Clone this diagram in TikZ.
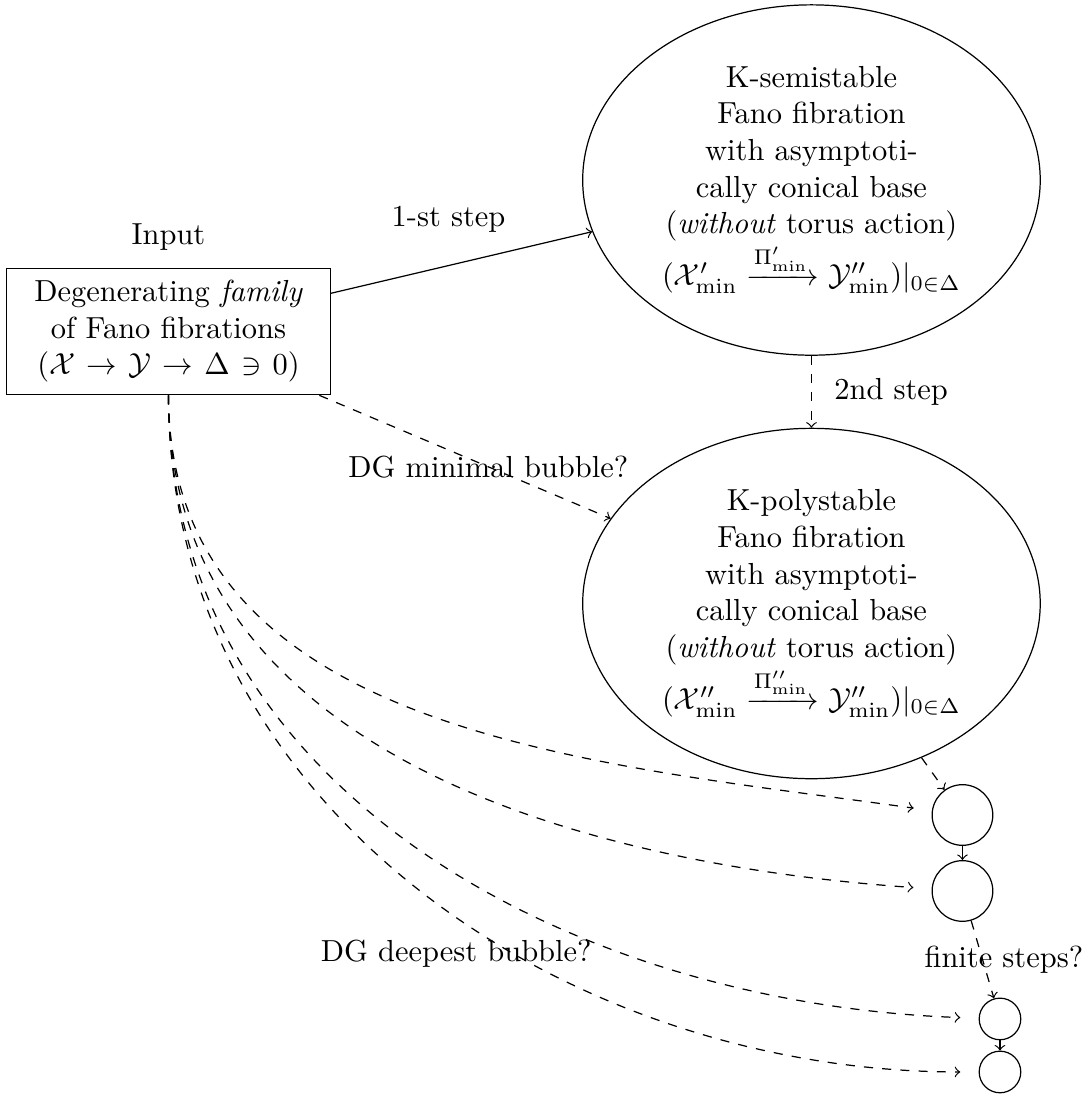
\documentclass[tikz,border=0pt]{standalone}
\usepackage{tikz}
\usepackage{graphicx, xcolor}
\usepackage{amsfonts, amsmath}
\usetikzlibrary{shapes.geometric}

\tikzset{
    famrect/.style={draw, rectangle, text width=3.5cm, minimum height=1.46cm, align=center},
    fibell/.style={draw, ellipse, text width=3.5cm, align=center},
    bubcirc/.style={draw, circle, minimum size=#1}
}

\begin{document}
\begin{tikzpicture}
            \useasboundingbox (0,0) rectangle (12.581,-12.662);

            %input family
            \node[famrect, label={[label distance=2pt]above:Input}] (fam) at (1.945,-3.826)
                {Degenerating \emph{family}\\ of Fano fibrations\\ $(\mathcal{X}\to\mathcal{Y}\to\Delta\ni 0)$};

            %fano fibrations over the cone
            \node[fibell] (semi) at (9.366,-2.078)
                {K-semistable\\ Fano fibration\\ with asymptoti-\\ cally conical base\\ (\emph{without} torus action)\\
                $(\mathcal{X}'_{\min}\xrightarrow{\Pi'_{\min}}\mathcal{Y}''_{\min})|_{0\in\Delta}$};
            \node[fibell] (poly) at (9.366,-6.966)
                {K-polystable\\ Fano fibration\\ with asymptoti-\\ cally conical base\\ (\emph{without} torus action)\\
                $(\mathcal{X}''_{\min}\xrightarrow{\Pi''_{\min}}\mathcal{Y}''_{\min})|_{0\in\Delta}$};

            %bubbles
            \node[bubcirc=0.7cm] (b1) at (11.109,-9.407) {};
            \node[bubcirc=0.7cm] (b2) at (11.109,-10.284) {};
            \node[bubcirc=0.48cm] (b3) at (11.542,-11.761) {};
            \node[bubcirc=0.48cm] (b4) at (11.542,-12.373) {};

            %steps
            \draw[->] (fam) -- node[pos=0.45, above=7.5pt] {1-st step} (semi);
            \draw[->, dashed] (semi) -- node[right=4pt] {2nd step} (poly);
            \draw[->, dashed] (fam) -- node[pos=0.58] {DG minimal bubble?} (poly);
            \draw[->, dashed] (poly) -- (b1);
            \draw[->] (b1) -- (b2);
            \draw[->, dashed] (b2) -- node[xshift=7pt] {finite steps?} (b3);
            \draw[->] (b3) -- (b4);

            %bubble trees
            \foreach \b/\a in {b1/172, b2/176, b3/178}
            {
                \draw[->, dashed, shorten >=6pt] (fam.south) to[out=-90, in=\a] (\b);
            }
            \draw[->, dashed, shorten >=6pt] (fam.south) to[out=-90, in=180] node[pos=0.54, below=4.5pt] {DG deepest bubble?} (b4);
\end{tikzpicture}
\end{document}
